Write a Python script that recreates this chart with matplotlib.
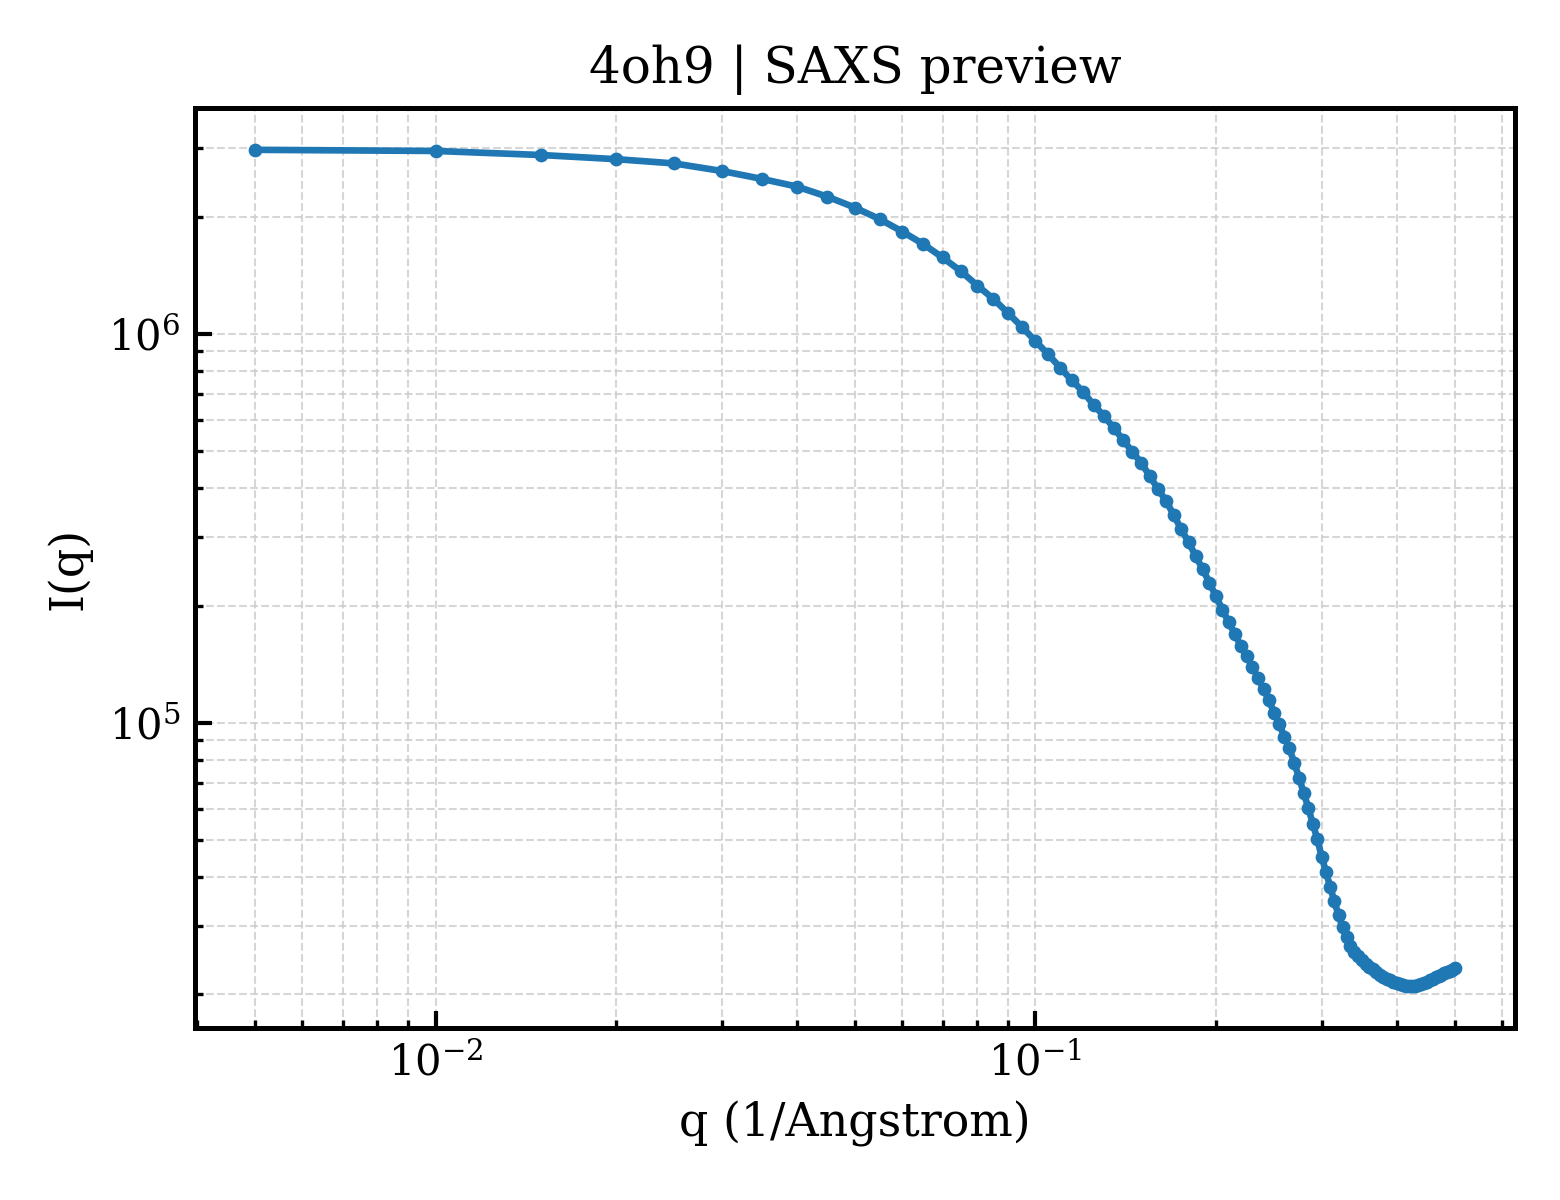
import matplotlib
matplotlib.use("Agg")
import matplotlib.pyplot as plt

plt.rcParams['font.family'] = ['DejaVu Serif']
plt.rcParams['mathtext.fontset'] = 'dejavuserif'

# scattering vector q (1/Angstrom)
q = [0.005, 0.010, 0.015, 0.020, 0.025, 0.030, 0.035, 0.040, 0.045, 0.050,
     0.055, 0.060, 0.065, 0.070, 0.075, 0.080, 0.085, 0.090, 0.095, 0.100,
     0.105, 0.110, 0.115, 0.120, 0.125, 0.130, 0.135, 0.140, 0.145, 0.150,
     0.155, 0.160, 0.165, 0.170, 0.175, 0.180, 0.185, 0.190, 0.195, 0.200,
     0.205, 0.210, 0.215, 0.220, 0.225, 0.230, 0.235, 0.240, 0.245, 0.250,
     0.255, 0.260, 0.265, 0.270, 0.275, 0.280, 0.285, 0.290, 0.295, 0.300,
     0.305, 0.310, 0.315, 0.320, 0.325, 0.330, 0.335, 0.340, 0.345, 0.350,
     0.355, 0.360, 0.365, 0.370, 0.375, 0.380, 0.385, 0.390, 0.395, 0.400,
     0.405, 0.410, 0.415, 0.420, 0.425, 0.430, 0.435, 0.440, 0.445, 0.450,
     0.455, 0.460, 0.465, 0.470, 0.475, 0.480, 0.485, 0.490, 0.495, 0.500]

# intensity I(q)
intensity = [2.97e6, 2.95e6, 2.88e6, 2.81e6, 2.74e6, 2.62e6, 2.50e6, 2.39e6, 2.25e6, 2.11e6,
             1.97e6, 1.83e6, 1.70e6, 1.57e6, 1.45e6, 1.33e6, 1.23e6, 1.13e6, 1.04e6, 9.57e5,
             8.85e5, 8.17e5, 7.58e5, 7.10e5, 6.56e5, 6.15e5, 5.73e5, 5.33e5, 4.97e5, 4.66e5,
             4.31e5, 3.99e5, 3.72e5, 3.42e5, 3.14e5, 2.91e5, 2.68e5, 2.48e5, 2.29e5, 2.11e5,
             1.95e5, 1.81e5, 1.69e5, 1.57e5, 1.48e5, 1.39e5, 1.30e5, 1.22e5, 1.14e5, 1.06e5,
             9.89e4, 9.21e4, 8.58e4, 7.89e4, 7.22e4, 6.60e4, 6.04e4, 5.49e4, 5.02e4, 4.52e4,
             4.13e4, 3.78e4, 3.47e4, 3.20e4, 2.98e4, 2.81e4, 2.66e4, 2.57e4, 2.51e4, 2.45e4,
             2.39e4, 2.35e4, 2.32e4, 2.28e4, 2.25e4, 2.22e4, 2.195e4, 2.175e4, 2.156e4, 2.137e4,
             2.125e4, 2.112e4, 2.106e4, 2.10e4, 2.10e4, 2.106e4, 2.112e4, 2.125e4, 2.137e4, 2.156e4,
             2.175e4, 2.195e4, 2.215e4, 2.235e4, 2.247e4, 2.268e4, 2.281e4, 2.302e4, 2.316e4, 2.337e4]

fig, ax = plt.subplots(figsize=(5.2, 4), dpi=300)
fig.subplots_adjust(left=0.125, right=0.971, top=0.91, bottom=0.1433)

ax.plot(q, intensity, '-o', color='#1f77b4', linewidth=1.6, markersize=2.3)
ax.set_xscale('log')
ax.set_yscale('log')

ax.set_title('4oh9 | SAXS preview', fontsize=12)
ax.set_xlabel('q (1/Angstrom)', fontsize=11)
ax.set_ylabel('I(q)', fontsize=11)

ax.grid(True, which='both', linestyle='--', linewidth=0.5, color='#cccccc', alpha=0.8)
ax.tick_params(which='both', direction='in', labelsize=10)
ax.tick_params(which='major', length=4, width=1)
ax.tick_params(which='minor', length=2, width=0.8)
for s in ax.spines.values():
    s.set_linewidth(1.2)

fig.savefig('out.png', dpi=300)
